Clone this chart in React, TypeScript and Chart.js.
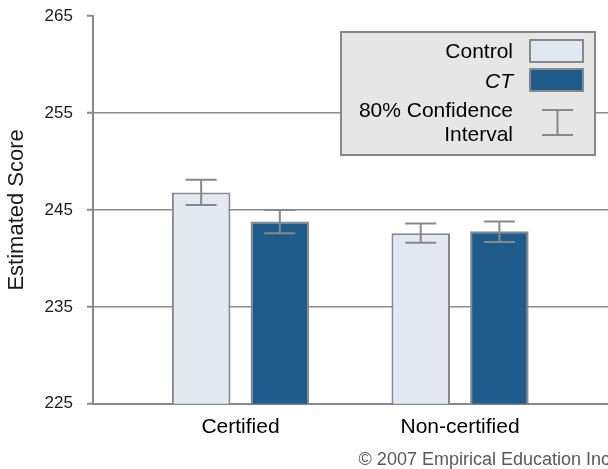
import React, { useEffect, useRef } from "react";
import { Chart, registerables } from "chart.js";

Chart.register(...registerables);

const FONT = "'Liberation Sans', Arial, Helvetica, sans-serif";

const categories = ["Certified", "Non-certified"];
const seriesNames = ["Control", "CT"];
const controlValues = [246.8, 242.6];
const ctValues = [243.8, 242.8];
const controlLow = [245.5, 241.6];
const controlHigh = [248.1, 243.6];
const ctLow = [242.6, 241.7];
const ctHigh = [245.0, 243.8];
const yTicks = [225, 235, 245, 255, 265];
const yTitle = "Estimated Score";
const ciLabel = ["80% Confidence", "Interval"];
const copyright = "© 2007 Empirical Education Inc";

const fills = ["#e3e9f2", "#1f5c8b"];
const edge = "#888888";

const errLow = [controlLow, ctLow];
const errHigh = [controlHigh, ctHigh];

const errorBarPlugin = {
  id: "errorBars",
  afterDatasetsDraw(chart: any) {
    const ctx = chart.ctx;
    const ys = chart.scales.y;
    ctx.save();
    ctx.strokeStyle = edge;
    ctx.lineWidth = 2;
    chart.data.datasets.forEach((_ds: any, di: number) => {
      const meta = chart.getDatasetMeta(di);
      meta.data.forEach((bar: any, i: number) => {
        const x = bar.x;
        const yl = ys.getPixelForValue(errLow[di][i]);
        const yh = ys.getPixelForValue(errHigh[di][i]);
        const cap = 15.5;
        ctx.beginPath();
        ctx.moveTo(x, yl);
        ctx.lineTo(x, yh);
        ctx.moveTo(x - cap, yl);
        ctx.lineTo(x + cap, yl);
        ctx.moveTo(x - cap, yh);
        ctx.lineTo(x + cap, yh);
        ctx.stroke();
      });
    });
    ctx.restore();
  },
};

const legendPlugin = {
  id: "boxLegend",
  afterDraw(chart: any) {
    const ctx = chart.ctx;
    const area = chart.chartArea;
    const right = area.right - 15;
    const left = right - 254;
    const top = area.top + 16;
    const h = 123;
    ctx.save();
    ctx.fillStyle = "#e6e6e6";
    ctx.fillRect(left, top, right - left, h);
    ctx.strokeStyle = edge;
    ctx.lineWidth = 2;
    ctx.strokeRect(left, top, right - left, h);

    const textRight = right - 82;
    const swL = right - 65;
    const swW = 53;
    const swH = 22;
    ctx.textAlign = "right";
    ctx.textBaseline = "alphabetic";
    ctx.fillStyle = "#000";
    const rows = [
      { name: seriesNames[0], italic: false, base: top + 26, swTop: top + 8 },
      { name: seriesNames[1], italic: true, base: top + 56, swTop: top + 37 },
    ];
    rows.forEach((r, i) => {
      ctx.font = `${r.italic ? "italic " : ""}21px ${FONT}`;
      ctx.fillStyle = "#000";
      ctx.fillText(r.name, textRight, r.base);
      ctx.fillStyle = fills[i];
      ctx.fillRect(swL, r.swTop, swW, swH);
      ctx.strokeStyle = edge;
      ctx.lineWidth = 2;
      ctx.strokeRect(swL, r.swTop, swW, swH);
    });
    ctx.font = `21px ${FONT}`;
    ctx.fillStyle = "#000";
    ctx.fillText(ciLabel[0], textRight, top + 85);
    ctx.fillText(ciLabel[1], textRight, top + 109);
    const cx = swL + swW / 2 + 1;
    const t = top + 78;
    const b = top + 103;
    ctx.strokeStyle = edge;
    ctx.lineWidth = 2;
    ctx.beginPath();
    ctx.moveTo(cx, t);
    ctx.lineTo(cx, b);
    ctx.moveTo(cx - 15.5, t);
    ctx.lineTo(cx + 15.5, t);
    ctx.moveTo(cx - 15.5, b);
    ctx.lineTo(cx + 15.5, b);
    ctx.stroke();
    ctx.restore();
  },
};

export default function App() {
  const ref = useRef<HTMLCanvasElement | null>(null);

  useEffect(() => {
    if (!ref.current) return;
    const chart = new Chart(ref.current, {
      type: "bar",
      data: {
        datasets: [
          {
            label: seriesNames[0],
            data: controlValues.map((v, i) => ({ x: i + 1, y: v })),
            backgroundColor: fills[0],
            borderColor: edge,
            borderWidth: 2,
            borderSkipped: false,
            categoryPercentage: 0.7165,
            barPercentage: 0.744,
          },
          {
            label: seriesNames[1],
            data: ctValues.map((v, i) => ({ x: i + 1, y: v })),
            backgroundColor: fills[1],
            borderColor: edge,
            borderWidth: 2,
            borderSkipped: false,
            categoryPercentage: 0.7165,
            barPercentage: 0.744,
          },
        ],
      },
      options: {
        animation: false,
        responsive: true,
        maintainAspectRatio: false,
        layout: { padding: { left: 0.2, top: 16, right: 0, bottom: 0 } },
        plugins: {
          legend: { display: false },
          tooltip: { enabled: false },
          title: {
            display: true,
            position: "bottom",
            align: "end",
            text: copyright,
            color: "#595959",
            font: { family: FONT, size: 18, weight: "normal", lineHeight: 1 },
            padding: { top: 0, bottom: 0 },
          },
        },
        scales: {
          x: {
            type: "linear",
            offset: false,
            min: 0.328,
            max: 2.683,
            afterBuildTicks: (scale: any) => {
              scale.ticks = categories.map((_c, i) => ({ value: i + 1 }));
            },
            ticks: {
              callback: (_v: any, index: number) => categories[index] ?? "",
              font: { family: FONT, size: 21 },
              color: "#000",
              padding: 11,
              maxRotation: 0,
              autoSkip: false,
            },
            grid: { display: false, drawTicks: false, offset: false },
            border: { display: true, color: edge, width: 2 },
          },
          y: {
            min: 225,
            max: 265,
            afterBuildTicks: (scale: any) => {
              scale.ticks = yTicks.map((v) => ({ value: v }));
            },
            ticks: {
              font: { family: FONT, size: 17, lineHeight: 0.2 },
              color: "#1a1a1a",
              padding: 14,
            },
            grid: {
              color: (c: any) => (c.tick && c.tick.value === 265 ? "rgba(0,0,0,0)" : "#8c8c8c"),
              tickColor: edge,
              tickLength: 6,
              lineWidth: 1.5,
              tickWidth: 2,
            },
            border: { display: true, color: edge, width: 2 },
            title: {
              display: true,
              text: yTitle,
              color: "#1a1a1a",
              font: { family: FONT, size: 22 },
              padding: { top: 4, bottom: 0 },
            },
          },
        },
      },
      plugins: [errorBarPlugin, legendPlugin],
    } as any);
    return () => chart.destroy();
  }, []);

  return (
    <div
      style={{
        position: "fixed",
        left: 0,
        top: 0,
        width: 608,
        height: 469,
        overflow: "hidden",
        background: "#fff",
      }}
    >
      <div style={{ position: "relative", width: 610, height: 469 }}>
        <canvas ref={ref} />
      </div>
    </div>
  );
}
